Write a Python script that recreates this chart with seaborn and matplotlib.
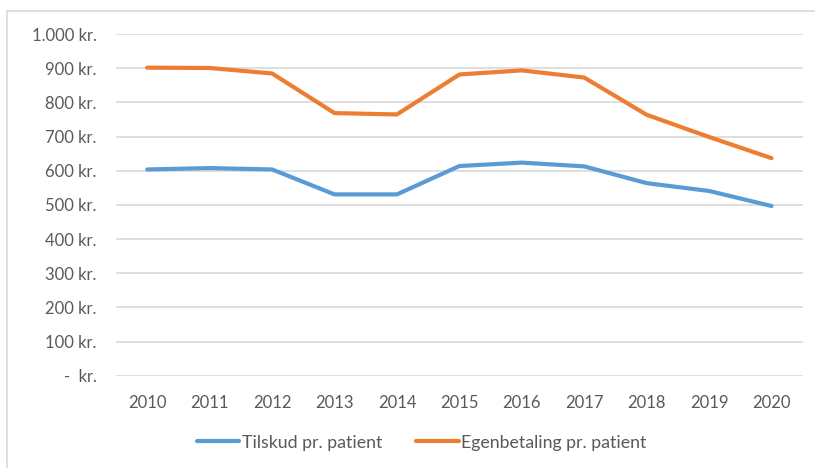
import pandas as pd
import numpy as np
import matplotlib.pyplot as plt
import seaborn as sns
from matplotlib.patches import Rectangle

years = [2010, 2011, 2012, 2013, 2014, 2015, 2016, 2017, 2018, 2019, 2020]
tilskud = [604, 608, 604, 531, 531, 614, 624, 613, 564, 541, 497]
egenbetaling = [902, 901, 885, 769, 765, 882, 894, 873, 764, 699, 637]
series_names = ['Tilskud pr. patient', 'Egenbetaling pr. patient']
y_ticks = [0, 100, 200, 300, 400, 500, 600, 700, 800, 900, 1000]
y_labels = ['-  kr.', '100 kr.', '200 kr.', '300 kr.', '400 kr.', '500 kr.',
            '600 kr.', '700 kr.', '800 kr.', '900 kr.', '1.000 kr.']

df = pd.DataFrame({
    'year': [str(y) for y in years] * 2,
    'value': tilskud + egenbetaling,
    'serie': [series_names[0]] * len(years) + [series_names[1]] * len(years),
})

sns.set_style('white')
plt.rcParams['font.family'] = ['Lato', 'DejaVu Sans']

fig = plt.figure(figsize=(8.15, 4.68), dpi=100)
ax = fig.add_axes([0.1423, 0.197, 0.8427, 0.730])

# light frame around the chart area like the Excel export
fig.patches.append(Rectangle((7 / 815, -0.01), 1.0, 1 - 11 / 468 + 0.01,
                             transform=fig.transFigure, fill=False,
                             edgecolor='#d9d9d9', linewidth=1.2))

sns.lineplot(data=df, x='year', y='value', hue='serie', ax=ax,
             palette=['#5b9bd5', '#ed7d31'], linewidth=3, legend=True,
             sort=False)

ax.set_xlim(-0.5, len(years) - 0.5)
ax.set_ylim(0, 1000)
ax.set_yticks(y_ticks)
ax.set_yticklabels(y_labels)
ax.yaxis.grid(True, color='#d9d9d9', linewidth=1.2)
ax.set_axisbelow(True)
for s in ax.spines.values():
    s.set_visible(False)
ax.tick_params(axis='both', length=0, labelsize=12, labelcolor='#595959')
ax.tick_params(axis='y', pad=14)
ax.tick_params(axis='x', pad=14)
ax.set_xlabel('')
ax.set_ylabel('')

handles, labels = ax.get_legend_handles_labels()
ax.legend(handles, labels, loc='upper center', bbox_to_anchor=(0.445, -0.125),
          ncol=2, frameon=False, fontsize=12.8, labelcolor='#595959',
          handlelength=2.4, handletextpad=0.15, columnspacing=1.9)

fig.savefig('out.png', dpi=100)
